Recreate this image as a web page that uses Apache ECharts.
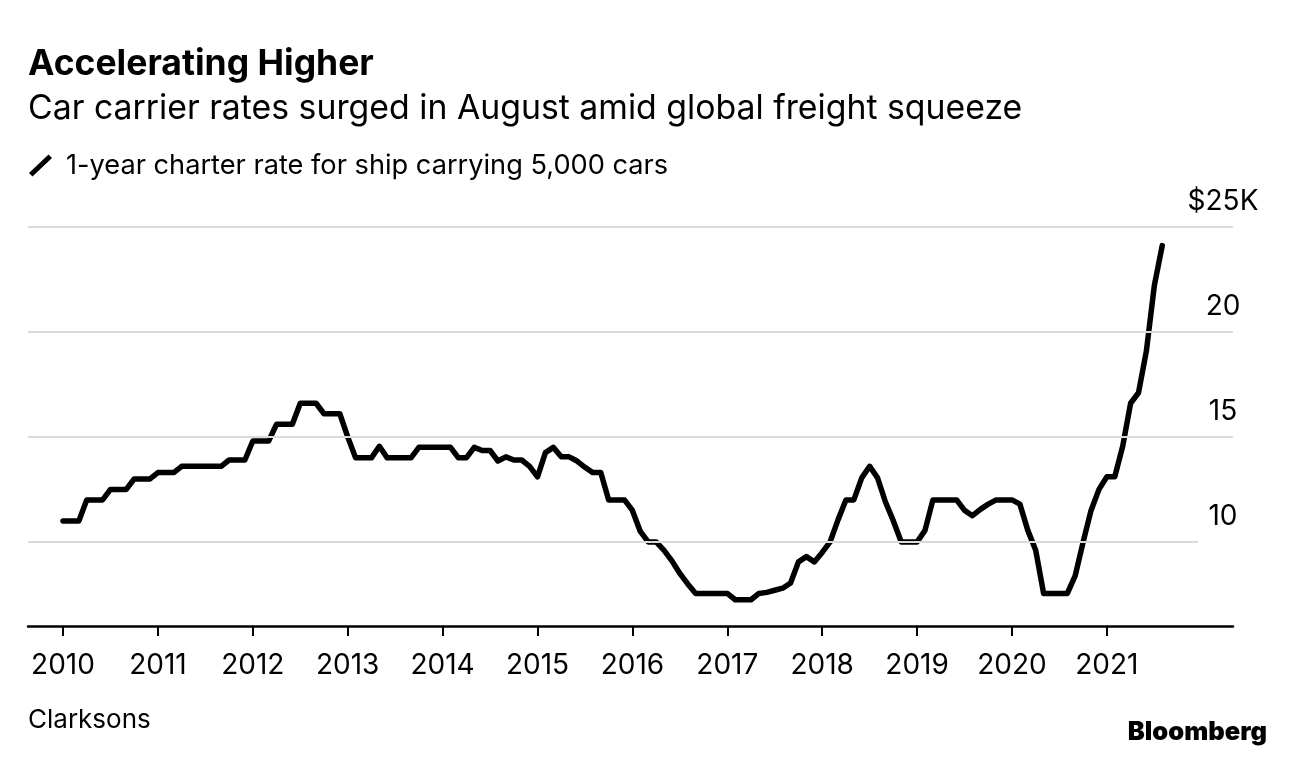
<!DOCTYPE html>
<html>
<head>
<meta charset="utf-8">
<script src="https://cdn.jsdelivr.net/npm/echarts@6/dist/echarts.min.js"></script>
<style>
  html, body { margin: 0; padding: 0; background: #fff; }
  #chart { width: 1296px; height: 760px; }
</style>
</head>
<body>
<div id="chart"></div>
<script>
// ---- Data (monthly, Jan 2010 .. Aug 2021), $ thousands per day ----
const START_YEAR = 2010;
const rate2010 = [11.0, 11.0, 11.0, 12.0, 12.0, 12.0, 12.5, 12.5, 12.5, 13.0, 13.0, 13.0];
const rate2011 = [13.3, 13.3, 13.3, 13.6, 13.6, 13.6, 13.6, 13.6, 13.6, 13.9, 13.9, 13.9];
const rate2012 = [14.8, 14.8, 14.8, 15.6, 15.6, 15.6, 16.6, 16.6, 16.6, 16.1, 16.1, 16.1];
const rate2013 = [15.0, 14.0, 14.0, 14.0, 14.55, 14.0, 14.0, 14.0, 14.0, 14.5, 14.5, 14.5];
const rate2014 = [14.5, 14.5, 14.0, 14.0, 14.5, 14.35, 14.35, 13.85, 14.05, 13.9, 13.9, 13.6];
const rate2015 = [13.1, 14.25, 14.5, 14.05, 14.05, 13.85, 13.55, 13.3, 13.3, 12.0, 12.0, 12.0];
const rate2016 = [11.5, 10.5, 10.0, 10.0, 9.6, 9.1, 8.5, 8.0, 7.55, 7.55, 7.55, 7.55];
const rate2017 = [7.55, 7.25, 7.25, 7.25, 7.55, 7.6, 7.7, 7.8, 8.05, 9.05, 9.3, 9.05];
const rate2018 = [9.5, 10.0, 11.05, 12.0, 12.0, 13.05, 13.6, 13.05, 11.9, 11.0, 10.0, 10.0];
const rate2019 = [10.0, 10.55, 12.0, 12.0, 12.0, 12.0, 11.5, 11.25, 11.55, 11.8, 12.0, 12.0];
const rate2020 = [12.0, 11.8, 10.55, 9.6, 7.55, 7.55, 7.55, 7.55, 8.4, 10.0, 11.5, 12.5];
const rate2021 = [13.1, 13.1, 14.55, 16.6, 17.1, 19.1, 22.2, 24.1];

const yearTicks = [2010, 2011, 2012, 2013, 2014, 2015, 2016, 2017, 2018, 2019, 2020, 2021];
const valueTicks = [10, 15, 20, 25];
const seriesName = '1-year charter rate for ship carrying 5,000 cars';

// ---- Build series ----
const monthly = [].concat(rate2010, rate2011, rate2012, rate2013, rate2014, rate2015,
  rate2016, rate2017, rate2018, rate2019, rate2020, rate2021);
const lineData = monthly.map((v, i) => [START_YEAR + i / 12, v]);

const X_MIN = 2009.631, X_MAX = 2022.329, SHORT_END = 2021.96;
const FONT = 'Inter, "Liberation Sans", Arial, sans-serif';

const gridLines = valueTicks.map(v => [
  { coord: [X_MIN, v] },
  { coord: [v === 10 ? SHORT_END : X_MAX, v] }
]);

const chart = echarts.init(document.getElementById('chart'), null, { renderer: 'canvas' });
chart.setOption({
  animation: false,
  backgroundColor: '#fff',
  textStyle: { fontFamily: FONT, color: '#000' },
  title: [
    { text: 'Accelerating Higher', left: 28, top: 46, padding: 0,
      textStyle: { fontFamily: FONT, fontSize: 35.5, fontWeight: 'bold', color: '#000' } },
    { text: 'Car carrier rates surged in August amid global freight squeeze', left: 28, top: 92, padding: 0,
      textStyle: { fontFamily: FONT, fontSize: 33.8, fontWeight: 'normal', color: '#000' } },
    { text: 'Clarksons', left: 28, top: 707, padding: 0,
      textStyle: { fontFamily: FONT, fontSize: 26, fontWeight: 'normal', color: '#000' } },
    { text: 'Bloomberg', right: 29, top: 719, padding: 0,
      textStyle: { fontFamily: FONT, fontSize: 25.5, fontWeight: 900, color: '#000' } }
  ],
  legend: {
    left: 29, top: 152, padding: 0,
    itemWidth: 23, itemHeight: 22,
    selectedMode: false,
    data: [{ name: seriesName, icon: 'path://M0,18.5 L19.5,0 L23,3.5 L3.5,22 Z' }],
    itemStyle: { color: '#000' },
    textStyle: { fontFamily: FONT, fontSize: 27.2, color: '#000', padding: [0, 0, 0, 9] }
  },
  grid: { left: 28, right: 63, top: 226.7, bottom: 134 },
  xAxis: {
    type: 'value', min: X_MIN, max: X_MAX,
    axisLine: { show: true, lineStyle: { color: '#000', width: 2.5 } },
    axisTick: { show: true, customValues: yearTicks, length: 10, lineStyle: { color: '#000', width: 2 } },
    axisLabel: { customValues: yearTicks, margin: 26, fontFamily: FONT, fontSize: 28, color: '#000',
      formatter: v => String(Math.round(v)) },
    splitLine: { show: false }
  },
  yAxis: {
    type: 'value', min: 6, max: 25, position: 'right',
    axisLine: { show: false }, axisTick: { show: false }, splitLine: { show: false },
    axisLabel: {
      customValues: valueTicks, inside: true, margin: 10, align: 'center', verticalAlign: 'bottom',
      padding: [0, 0, 11, 0],
      fontFamily: FONT, fontSize: 28, color: '#000',
      formatter: v => (v === 25 ? '$25K' : String(v))
    }
  },
  series: [
    {
      type: 'line', name: 'grid', data: [], silent: true, z: 1,
      markLine: {
        silent: true, symbol: ['none', 'none'], label: { show: false },
        lineStyle: { color: '#dadada', width: 2, type: 'solid' },
        emphasis: { disabled: true },
        data: gridLines
      }
    },
    {
      type: 'line', name: seriesName, data: lineData, z: 3,
      showSymbol: false, symbol: 'none', smooth: false,
      lineStyle: { color: '#000', width: 5.5, cap: 'round', join: 'round' },
      itemStyle: { color: '#000' },
      emphasis: { disabled: true }
    }
  ]
});
</script>
</body>
</html>
